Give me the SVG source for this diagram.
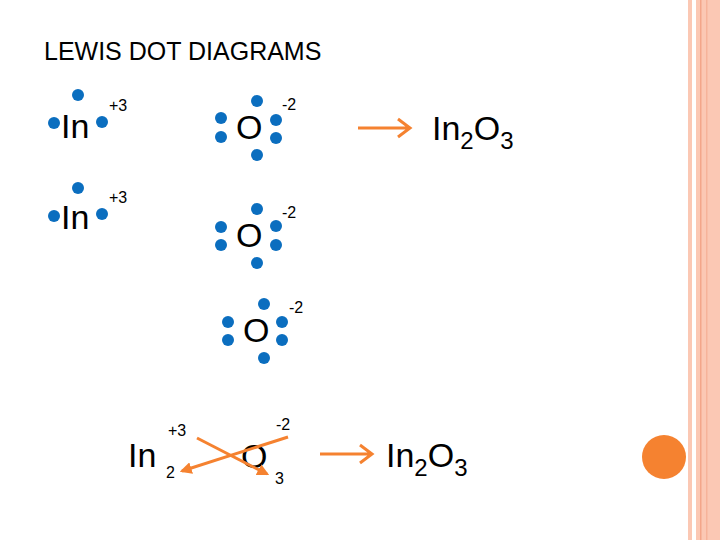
<svg xmlns="http://www.w3.org/2000/svg" width="720" height="540" viewBox="0 0 720 540">
<style>
text{font-family:"Liberation Sans",Arial,sans-serif;fill:#000}
.b{font-size:34px}.s{font-size:16px}.sub{font-size:24px}
.d{fill:#0b6ebf}
.ar{stroke:#f58230;stroke-width:3;fill:none}
</style>
<defs>
<marker id="ah" viewBox="0 0 10 10" refX="8" refY="5" markerWidth="4" markerHeight="4" orient="auto"><path d="M0,0L10,5L0,10Z" fill="#f58230"/></marker>
</defs>
<rect width="720" height="540" fill="#fff"/>
<rect x="688" y="0" width="4" height="540" fill="#fbc8b4"/>
<rect x="696" y="0" width="24" height="540" fill="#fbc8b4"/>
<rect x="700" y="0" width="1.5" height="540" fill="#f3a68a"/>
<rect x="706" y="0" width="1.5" height="540" fill="#f6b39a"/>
<circle cx="664" cy="457" r="22" fill="#f58230"/>
<text x="44" y="60" font-size="25">LEWIS DOT DIAGRAMS</text>
<g id="in1"><text class="b" x="61" y="138">In</text><circle class="d" cx="54" cy="123" r="6"/><circle class="d" cx="78" cy="95" r="6"/><circle class="d" cx="102" cy="122" r="6"/><text class="s" x="109" y="111">+3</text></g>
<g id="in2"><text class="b" x="61" y="229">In</text><circle class="d" cx="54" cy="216" r="6"/><circle class="d" cx="78" cy="188" r="6"/><circle class="d" cx="102" cy="214" r="6"/><text class="s" x="109" y="203">+3</text></g>
<g id="o1"><text class="b" x="236" y="139">O</text><circle class="d" cx="221" cy="118" r="6"/><circle class="d" cx="221" cy="137" r="6"/><circle class="d" cx="257" cy="101" r="6"/><circle class="d" cx="257" cy="155" r="6"/><circle class="d" cx="276" cy="120" r="6"/><circle class="d" cx="276" cy="138" r="6"/><text class="s" x="282" y="110">-2</text></g>
<g id="o2"><text class="b" x="236" y="247">O</text><circle class="d" cx="221" cy="227" r="6"/><circle class="d" cx="221" cy="245" r="6"/><circle class="d" cx="257" cy="209" r="6"/><circle class="d" cx="257" cy="263" r="6"/><circle class="d" cx="276" cy="226" r="6"/><circle class="d" cx="276" cy="245" r="6"/><text class="s" x="282" y="218">-2</text></g>
<g id="o3"><text class="b" x="243" y="342">O</text><circle class="d" cx="228" cy="322" r="6"/><circle class="d" cx="228" cy="340" r="6"/><circle class="d" cx="264" cy="304" r="6"/><circle class="d" cx="264" cy="358" r="6"/><circle class="d" cx="282" cy="322" r="6"/><circle class="d" cx="282" cy="340" r="6"/><text class="s" x="289" y="313">-2</text></g>
<g id="p1"><text class="b" x="432" y="140">In<tspan class="sub" dy="9">2</tspan><tspan dy="-9">O</tspan><tspan class="sub" dy="9">3</tspan></text></g>
<g id="p2"><text class="b" x="386" y="467">In<tspan class="sub" dy="9">2</tspan><tspan dy="-9">O</tspan><tspan class="sub" dy="9">3</tspan></text></g>
<g id="bottom"><text class="b" x="128" y="467">In</text><text class="s" x="168" y="436">+3</text><text class="s" x="166" y="478">2</text><text class="b" x="241" y="468">O</text><text class="s" x="276" y="430">-2</text><text class="s" x="275" y="484">3</text></g>
<g id="connectors">
<path class="ar" d="M358,128H410M398,119L410,128L398,137"/>
<path class="ar" d="M320,454H372M360,445L372,454L360,463"/>
<line class="ar" x1="288" y1="437" x2="182" y2="471" marker-end="url(#ah)"/>
<line class="ar" x1="197" y1="438" x2="267" y2="474" marker-end="url(#ah)"/>
</g>
</svg>
